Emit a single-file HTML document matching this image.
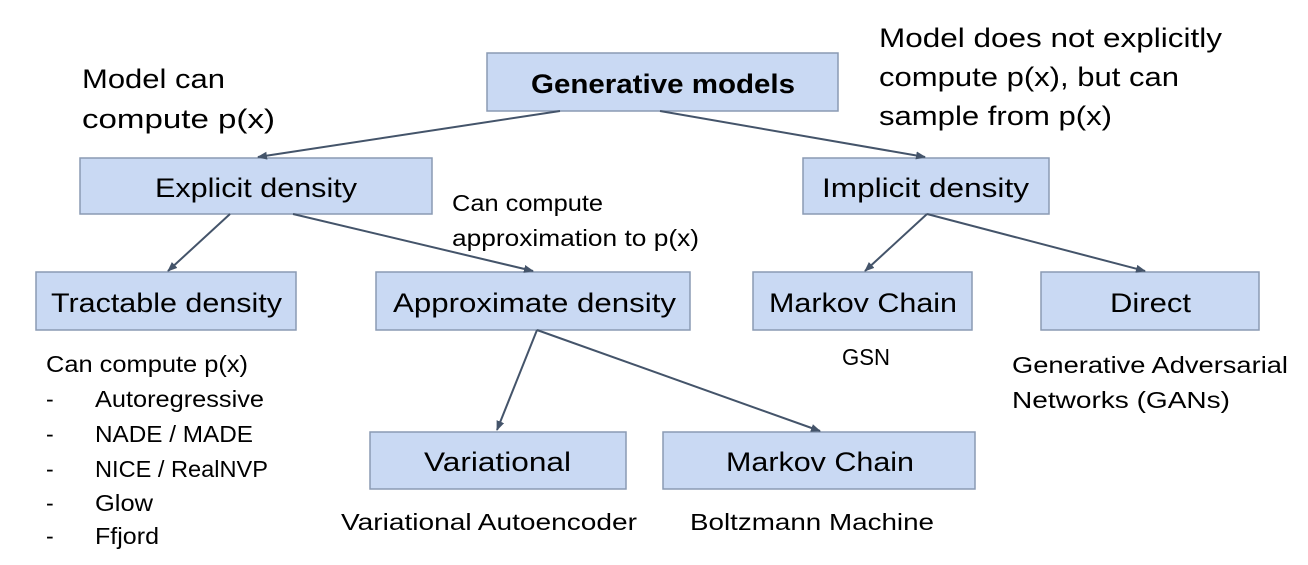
<!DOCTYPE html>
<html><head><style>body{margin:0;background:#fff}svg{display:block}</style></head><body>
<svg width="1308" height="565" viewBox="0 0 1308 565" xmlns="http://www.w3.org/2000/svg" font-family="'Liberation Sans', sans-serif">
<defs><marker id="a" markerWidth="10" markerHeight="8" refX="9" refY="4" orient="auto" markerUnits="userSpaceOnUse"><path d="M0,0 L10,4 L0,8 z" fill="#44546a"/></marker></defs>
<g fill="#c9d9f3" stroke="#8a9ab3" stroke-width="1.5">
<rect x="487" y="53" width="351" height="58"/>
<rect x="80" y="158" width="352" height="56"/>
<rect x="803" y="158" width="246" height="56"/>
<rect x="36" y="272" width="260" height="58"/>
<rect x="376" y="272" width="314" height="58"/>
<rect x="753" y="272" width="219" height="58"/>
<rect x="1041" y="272" width="218" height="58"/>
<rect x="370" y="432" width="256" height="57"/>
<rect x="663" y="432" width="312" height="57"/>
</g>
<g stroke="#44546a" stroke-width="2" marker-end="url(#a)">
<line x1="560" y1="111" x2="258" y2="157"/>
<line x1="660" y1="111" x2="925" y2="157"/>
<line x1="230" y1="214" x2="168" y2="271"/>
<line x1="293" y1="214" x2="533" y2="271"/>
<line x1="927" y1="214" x2="865" y2="271"/>
<line x1="927" y1="214" x2="1145" y2="271"/>
<line x1="537" y1="330" x2="497" y2="430"/>
<line x1="537" y1="330" x2="820" y2="431"/>
</g>
<g fill="#000" font-size="27" lengthAdjust="spacingAndGlyphs">
<text x="531" y="93" font-weight="bold" textLength="264" lengthAdjust="spacingAndGlyphs">Generative models</text>
<text x="155" y="197" textLength="202" lengthAdjust="spacingAndGlyphs">Explicit density</text>
<text x="822" y="197" textLength="207" lengthAdjust="spacingAndGlyphs">Implicit density</text>
<text x="51" y="312" textLength="231" lengthAdjust="spacingAndGlyphs">Tractable density</text>
<text x="393" y="312" textLength="283" lengthAdjust="spacingAndGlyphs">Approximate density</text>
<text x="769" y="312" textLength="188" lengthAdjust="spacingAndGlyphs">Markov Chain</text>
<text x="1110" y="312" textLength="81" lengthAdjust="spacingAndGlyphs">Direct</text>
<text x="424" y="471" textLength="147" lengthAdjust="spacingAndGlyphs">Variational</text>
<text x="726" y="471" textLength="188" lengthAdjust="spacingAndGlyphs">Markov Chain</text>
<text x="82" y="88" textLength="143" lengthAdjust="spacingAndGlyphs">Model can</text>
<text x="82" y="128" textLength="193" lengthAdjust="spacingAndGlyphs">compute p(x)</text>
<text x="879" y="47" textLength="343" lengthAdjust="spacingAndGlyphs">Model does not explicitly</text>
<text x="879" y="86" textLength="300" lengthAdjust="spacingAndGlyphs">compute p(x), but can</text>
<text x="879" y="125" textLength="233" lengthAdjust="spacingAndGlyphs">sample from p(x)</text>
</g>
<g fill="#000" font-size="23">
<text x="452" y="211" textLength="151" lengthAdjust="spacingAndGlyphs">Can compute</text>
<text x="452" y="246" textLength="247" lengthAdjust="spacingAndGlyphs">approximation to p(x)</text>
<text x="46" y="372" textLength="202" lengthAdjust="spacingAndGlyphs">Can compute p(x)</text>
<text x="46" y="407">-</text><text x="95" y="407" textLength="169" lengthAdjust="spacingAndGlyphs">Autoregressive</text>
<text x="46" y="442">-</text><text x="95" y="442" textLength="158" lengthAdjust="spacingAndGlyphs">NADE / MADE</text>
<text x="46" y="477">-</text><text x="95" y="477" textLength="173" lengthAdjust="spacingAndGlyphs">NICE / RealNVP</text>
<text x="46" y="511">-</text><text x="95" y="511" textLength="58" lengthAdjust="spacingAndGlyphs">Glow</text>
<text x="46" y="544">-</text><text x="95" y="544" textLength="64" lengthAdjust="spacingAndGlyphs">Ffjord</text>
<text x="842" y="365" textLength="48" lengthAdjust="spacingAndGlyphs">GSN</text>
<text x="1012" y="373" textLength="276" lengthAdjust="spacingAndGlyphs">Generative Adversarial</text>
<text x="1012" y="408" textLength="218" lengthAdjust="spacingAndGlyphs">Networks (GANs)</text>
<text x="341" y="530" textLength="296" lengthAdjust="spacingAndGlyphs">Variational Autoencoder</text>
<text x="690" y="530" textLength="244" lengthAdjust="spacingAndGlyphs">Boltzmann Machine</text>
</g>
</svg>
</body></html>
